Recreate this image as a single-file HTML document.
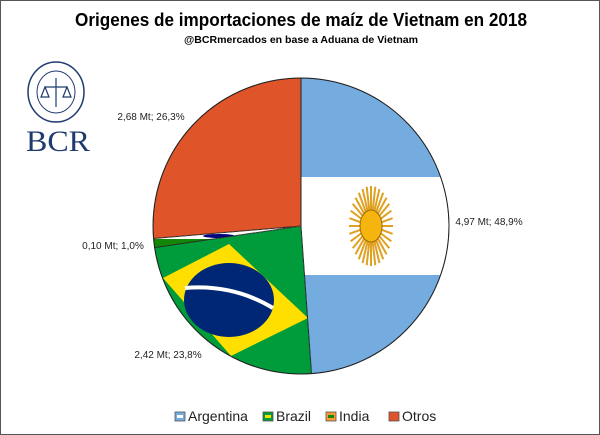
<!DOCTYPE html>
<html><head><meta charset="utf-8"><style>
body{margin:0;background:#fff}
#w{width:598px;height:433px;border:1px solid #555;position:relative;overflow:hidden;font-family:"Liberation Sans",sans-serif}
</style></head><body>
<div id="w">
<svg id="s" width="598" height="433" xmlns="http://www.w3.org/2000/svg">
<text x="300" y="25" text-anchor="middle" font-size="18" font-weight="bold" textLength="452" lengthAdjust="spacingAndGlyphs">Origenes de importaciones de maíz de Vietnam en 2018</text>
<text x="300" y="42" text-anchor="middle" font-size="10.5" font-weight="bold" textLength="234" lengthAdjust="spacingAndGlyphs">@BCRmercados en base a Aduana de Vietnam</text>
<g>
<ellipse cx="55" cy="91" rx="28" ry="30" fill="none" stroke="#1f3a6e" stroke-width="1.5"/>
<ellipse cx="55" cy="91" rx="19" ry="21" fill="none" stroke="#1f3a6e" stroke-width="1"/>
<path d="M55 77 V106 M44 86 H66 M44 86 L40 96 H48 Z M66 86 L62 96 H70 Z" stroke="#1f3a6e" fill="none" stroke-width="1.2"/>
<text x="57" y="150" text-anchor="middle" font-family="Liberation Serif,serif" font-size="30" fill="#1f3a6e" textLength="64" lengthAdjust="spacingAndGlyphs">BCR</text>
</g>
<defs id="d"></defs>
<g id="pie"></g>
<g id="lab"></g>
<g id="leg"></g>
</svg>
</div>
<script>
const categories=["Argentina","Brazil","India","Otros"];
const tons=[4.97,2.42,0.10,2.68];
const pctLabels=["48,9%","23,8%","1,0%","26,3%"];
const tonLabels=["4,97 Mt","2,42 Mt","0,10 Mt","2,68 Mt"];
const NS="http://www.w3.org/2000/svg";
const cx=300,cy=225,r=148;
const total=tons.reduce((a,b)=>a+b,0);
function pt(a,rr){return [cx+rr*Math.sin(a),cy-rr*Math.cos(a)];}
function mk(t,at,p){const e=document.createElementNS(NS,t);for(const k in at)e.setAttribute(k,at[k]);(p||document.getElementById('pie')).appendChild(e);return e;}
const defs=document.getElementById('d');
let a0=0;
const labelPos=[[488,224],[167,357],[112,248],[150,119]];
categories.forEach((c,i)=>{
 const a1=a0+tons[i]/total*2*Math.PI;
 const p0=pt(a0,r),p1=pt(a1,r);
 const d=`M${cx} ${cy} L${p0[0]} ${p0[1]} A${r} ${r} 0 ${a1-a0>Math.PI?1:0} 1 ${p1[0]} ${p1[1]} Z`;
 const cp=mk('clipPath',{id:'c'+i},defs);mk('path',{d:d},cp);
 const g=mk('g',{'clip-path':'url(#c'+i+')'});
 
 
 if(c==="Argentina"){
  mk('rect',{x:0,y:0,width:600,height:435,fill:'#74acdf'},g);
  mk('rect',{x:0,y:176,width:600,height:98,fill:'#fff'},g);
  for(let k=0;k<32;k++){const an=k*Math.PI/16;mk('line',{x1:370,y1:225,x2:370+22*Math.cos(an),y2:225+40*Math.sin(an),stroke:'#e0a020','stroke-width':2},g);}
  mk('ellipse',{cx:370,cy:225,rx:11,ry:16,fill:'#f6b40e',stroke:'#a06a00'},g);
 }else if(c==="Brazil"){
  mk('rect',{x:0,y:0,width:600,height:435,fill:'#009b3a'},g);
  mk('polygon',{points:'228,243 162,277 230,355 307,317',fill:'#fedf00'},g);
  mk('ellipse',{cx:228,cy:299,rx:45,ry:37,fill:'#002776'},g);
  mk('path',{d:'M184 287 Q232 283 272 307',stroke:'#fff','stroke-width':4,fill:'none'},g);
 }else if(c==="India"){
  mk('rect',{x:0,y:0,width:600,height:435,fill:'#138808'},g);
  mk('rect',{x:0,y:0,width:600,height:238,fill:'#fff'},g);
  mk('rect',{x:0,y:0,width:600,height:227,fill:'#f93'},g);
  mk('ellipse',{cx:218,cy:235,rx:16,ry:2,fill:'#000080'},g);
 }else{
  mk('rect',{x:0,y:0,width:600,height:435,fill:'#e0542a'},g);
 }
 mk('path',{d:d,fill:'none',stroke:'#222','stroke-width':1},g);
 const t=mk('text',{x:labelPos[i][0],y:labelPos[i][1],'font-size':10,'text-anchor':'middle',fill:'#222'},document.getElementById('lab'));
 
 
 t.textContent=tonLabels[i]+"; "+pctLabels[i];
 a0=a1;
});
mk('circle',{cx:cx,cy:cy,r:r,fill:'none',stroke:'#222','stroke-width':1});
const legX=[174,262,325,388];
const legCol=[["#74acdf","#fff"],["#009b3a","#fedf00"],["#f93","#138808"],["#e0542a","#e0542a"]];
categories.forEach((c,i)=>{
 const L=document.getElementById('leg');
 const g=mk('g',{},L);
 
 
 mk('rect',{x:legX[i],y:411,width:10,height:9,fill:legCol[i][0],stroke:'#555','stroke-width':0.8},g);
 mk('rect',{x:legX[i]+2,y:414,width:6,height:3,fill:legCol[i][1]},g);
 const t=mk('text',{x:legX[i]+13,y:420,'font-size':14,fill:'#222'},g);
 t.textContent=c;
});
</script>
</body></html>
